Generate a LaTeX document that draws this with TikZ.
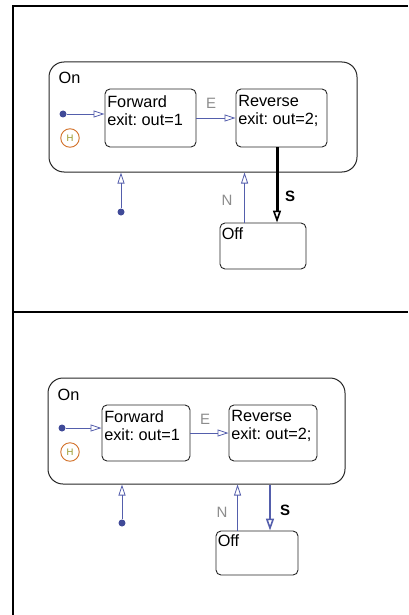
\documentclass[tikz,border=0pt]{standalone}
\usepackage{fontspec}
\setmainfont{Liberation Sans}
\usetikzlibrary{arrows.meta}
\definecolor{transblue}{RGB}{84,94,172}
\definecolor{dotblue}{RGB}{64,74,152}
\definecolor{historange}{RGB}{210,112,40}
\definecolor{histolive}{RGB}{150,150,40}
\definecolor{evtgray}{RGB}{140,140,140}
\frenchspacing
\begin{document}
\begin{tikzpicture}[x=1pt,y=-1pt,
  frame/.style={line width=2.2pt},
  superstate/.style={draw=black!85, line width=1pt, rounded corners=15pt, inner sep=0pt},
  substate/.style={draw=black!85, line width=0.9pt, rounded corners=5pt, inner sep=0pt},
  txt/.style={inner sep=0pt, anchor=north west, align=left, font=\fontsize{16.3}{18}\selectfont},
  evt/.style={inner sep=0pt, text=evtgray, font=\fontsize{15}{15}\selectfont},
  slabel/.style={inner sep=0pt, font=\fontsize{15}{15}\selectfont\bfseries},
  trans/.style={draw=transblue, line width=0.8pt, -{Triangle[open, length=11pt, width=7pt]}},
  strong/.style={line width=3pt, -{Triangle[open, length=12pt, width=8pt, line width=1.6pt]}},
  dot/.style={circle, fill=dotblue, inner sep=0pt, minimum size=7pt},
  hist/.style={circle, draw=historange, line width=0.9pt, inner sep=0pt, minimum size=18.5pt,
    text=histolive, font=\fontsize{9.5}{9.5}\selectfont},
]
\useasboundingbox (0,0) rectangle (408,615);

% outer frame and divider
\draw[frame] (408,6) -- (13,6) -- (13,615);
\draw[frame] (13,312) -- (408,312);

% ---------- upper chart ----------
\node[superstate, minimum width=308pt, minimum height=110pt] (on1) at (203,117) {};
\node[txt] (on1t) at ([xshift=10pt,yshift=-10pt]on1.north west) {On};
\node[substate, minimum width=91pt, minimum height=58pt] (fwd1) at (150.5,118) {};
\node[txt] (fwd1t) at ([xshift=2.5pt,yshift=-7pt]fwd1.north west) {Forward\\exit: out=1};
\node[substate, minimum width=91pt, minimum height=58pt] (rev1) at (281.5,118) {};
\node[txt] (rev1t) at ([xshift=2.5pt,yshift=-7pt]rev1.north west) {Reverse\\exit: out=2;};
\node[substate, minimum width=86pt, minimum height=46pt] (off1) at (263,246) {};
\node[txt] (off1t) at ([xshift=2pt,yshift=-5pt]off1.north west) {Off};
\node[dot] (ini1) at (63,114) {};
\node[dot] (def1) at (121,212) {};
\node[hist] (h1) at (70,138) {H};

\draw[trans] (ini1) -- (ini1 -| fwd1.west);
\draw[trans] (fwd1.east) -- (rev1.west);
\draw[trans] (def1) -- (def1 |- on1.south);
\draw[trans] ([xshift=25pt]off1.north west) -- ([xshift=25pt]off1.north west |- on1.south);
\draw[strong] ([xshift=-4.5pt]rev1.south) -- ([xshift=-4.5pt]rev1.south |- off1.north);

\node[evt] (e1) at (211,103) {E};
\node[evt] (n1) at (227,200) {N};
\node[slabel] (s1) at (290,196) {S};

% ---------- lower chart ----------
\node[superstate, minimum width=297pt, minimum height=106pt] (on2) at (196.5,431) {};
\node[txt] (on2t) at ([xshift=10pt,yshift=-11pt]on2.north west) {On};
\node[substate, minimum width=88pt, minimum height=56pt] (fwd2) at (146,433) {};
\node[txt] (fwd2t) at ([xshift=2.5pt,yshift=-6pt]fwd2.north west) {Forward\\exit: out=1};
\node[substate, minimum width=88pt, minimum height=56pt] (rev2) at (273,433) {};
\node[txt] (rev2t) at ([xshift=2.5pt,yshift=-6pt]rev2.north west) {Reverse\\exit: out=2;};
\node[substate, minimum width=82pt, minimum height=44pt] (off2) at (257,553) {};
\node[txt] (off2t) at ([xshift=2pt,yshift=-4pt]off2.north west) {Off};
\node[dot] (ini2) at (62,428) {};
\node[dot] (def2) at (122,523) {};
\node[hist] (h2) at (70,452) {H};

\draw[trans] (ini2) -- (ini2 -| fwd2.west);
\draw[trans] (fwd2.east) -- (rev2.west);
\draw[trans] (def2) -- (def2 |- on2.south);
\draw[trans] ([xshift=22pt]off2.north west) -- ([xshift=22pt]off2.north west |- on2.south);
\draw[strong, draw=transblue, line width=2.3pt] ([xshift=-3pt]rev2.south |- on2.south) -- ([xshift=-3pt]rev2.south |- off2.north);

\node[evt] (e2) at (205,419) {E};
\node[evt] (n2) at (222,512) {N};
\node[slabel] (s2) at (285,510) {S};
\end{tikzpicture}
\end{document}
